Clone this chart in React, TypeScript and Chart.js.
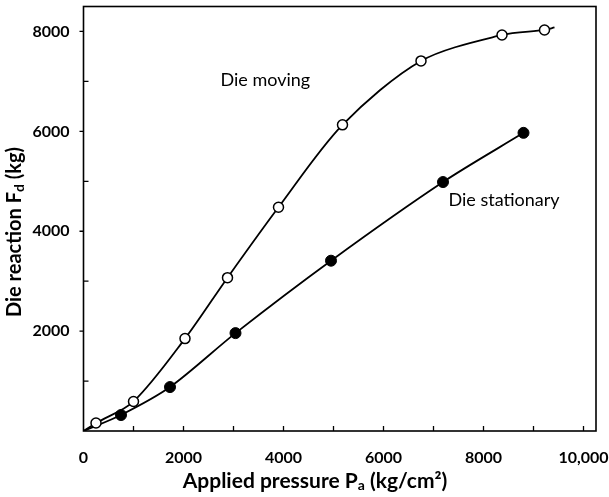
import React, { useEffect, useRef } from "react";
import { Chart, registerables } from "chart.js";

Chart.register(...registerables);

const movingX = [0, 250, 1000, 2030, 2880, 3900, 5180, 6750, 8370, 9220, 9420];
const movingY = [0, 160, 590, 1850, 3070, 4480, 6130, 7410, 7930, 8030, 8080];
const movingMarker = [false, true, true, true, true, true, true, true, true, true, false];

const stationaryX = [0, 750, 1730, 3040, 4950, 7190, 8800];
const stationaryY = [0, 320, 880, 1960, 3410, 4985, 5970];
const stationaryMarker = [false, true, true, true, true, true, true];

const xLabelTicks = [0, 2000, 4000, 6000, 8000, 10000];
const yLabelTicks = [2000, 4000, 6000, 8000];
const xMinorTicks = [1000, 2000, 3000, 4000, 5000, 6000, 7000, 8000, 9000, 10000];
const yMinorTicks = [1000, 3000, 5000, 7000];

const movingLabel = "Die moving";
const stationaryLabel = "Die stationary";

const FONT = "Lato, 'Open Sans', sans-serif";

function drawRich(ctx: CanvasRenderingContext2D, parts: { t: string; sub?: boolean }[], x: number, y: number, size: number, weight: string, center: boolean) {
  const widths = parts.map((p) => {
    ctx.font = `${weight} ${p.sub ? Math.round(size * 0.68) : size}px ${FONT}`;
    return ctx.measureText(p.t).width;
  });
  const total = widths.reduce((a, b) => a + b, 0);
  let cx = center ? x - total / 2 : x;
  parts.forEach((p, i) => {
    ctx.font = `${weight} ${p.sub ? Math.round(size * 0.68) : size}px ${FONT}`;
    ctx.fillText(p.t, cx, p.sub ? y + size * 0.22 : y);
    cx += widths[i];
  });
}

const decorPlugin = {
  id: "decor",
  afterDraw(chart: any) {
    const ctx = chart.ctx as CanvasRenderingContext2D;
    const area = chart.chartArea;
    const xs = chart.scales.x;
    const ys = chart.scales.y;
    ctx.save();
    ctx.strokeStyle = "#000";
    ctx.lineWidth = 1.6;
    ctx.strokeRect(area.left, area.top, area.right - area.left, area.bottom - area.top);
    ctx.lineWidth = 1.3;
    ctx.beginPath();
    xMinorTicks.forEach((v) => {
      const px = xs.getPixelForValue(v);
      ctx.moveTo(px, area.bottom);
      ctx.lineTo(px, area.bottom - 5);
    });
    yMinorTicks.forEach((v) => {
      const py = ys.getPixelForValue(v);
      ctx.moveTo(area.left, py);
      ctx.lineTo(area.left + 5, py);
    });
    yLabelTicks.forEach((v) => {
      const py = ys.getPixelForValue(v);
      ctx.moveTo(area.left, py);
      ctx.lineTo(area.left - 4, py);
    });
    ctx.stroke();

    ctx.fillStyle = "#000";
    ctx.textBaseline = "middle";
    ctx.textAlign = "left";
    ctx.font = `normal 18px ${FONT}`;
    ctx.fillText(movingLabel, xs.getPixelForValue(2740), ys.getPixelForValue(7020));
    ctx.fillText(stationaryLabel, xs.getPixelForValue(7300), ys.getPixelForValue(4620));

    drawRich(ctx, [{ t: "Applied pressure P" }, { t: "a", sub: true }, { t: " (kg/cm²)" }], 315, 481, 21, "bold", true);

    ctx.save();
    ctx.translate(15, 232);
    ctx.rotate(-Math.PI / 2);
    drawRich(ctx, [{ t: "Die reaction F" }, { t: "d", sub: true }, { t: " (kg)" }], 0, 0, 20, "bold", true);
    ctx.restore();
    ctx.restore();
  },
};

export default function App() {
  const ref = useRef<HTMLCanvasElement | null>(null);
  useEffect(() => {
    if (!ref.current) return;
    const chart = new Chart(ref.current, {
      type: "line",
      data: {
        datasets: [
          {
            label: movingLabel,
            data: movingX.map((x, i) => ({ x, y: movingY[i] })),
            borderColor: "#000",
            borderWidth: 1.8,
            backgroundColor: "#fff",
            pointBackgroundColor: "#fff",
            pointBorderColor: "#000",
            pointBorderWidth: 1.5,
            pointRadius: movingMarker.map((m) => (m ? 5 : 0)),
            tension: 0.3,
            fill: false,
          },
          {
            label: stationaryLabel,
            data: stationaryX.map((x, i) => ({ x, y: stationaryY[i] })),
            borderColor: "#000",
            borderWidth: 1.8,
            backgroundColor: "#000",
            pointBackgroundColor: "#000",
            pointBorderColor: "#000",
            pointBorderWidth: 1,
            pointRadius: stationaryMarker.map((m) => (m ? 5.5 : 0)),
            tension: 0.3,
            fill: false,
          },
        ],
      },
      options: {
        animation: false,
        responsive: false,
        devicePixelRatio: 1,
        layout: { padding: { left: 0, top: 5, right: 13, bottom: 0 } },
        plugins: { legend: { display: false }, tooltip: { enabled: false } },
        scales: {
          x: {
            type: "linear",
            min: 0,
            max: 10250,
            grid: { display: false },
            border: { display: false },
            afterBuildTicks: (s: any) => {
              s.ticks = xLabelTicks.map((v) => ({ value: v }));
            },
            afterFit: (s: any) => {
              s.height = 66;
              s.paddingLeft = 0;
              s.paddingRight = 0;
            },
            ticks: {
              color: "#000",
              padding: 9,
              maxRotation: 0,
              autoSkip: false,
              font: { family: FONT, size: 16, weight: "bold" },
              callback: (v: any) => (v === 10000 ? "10,000" : String(v)),
            },
          },
          y: {
            type: "linear",
            min: 0,
            max: 8500,
            grid: { display: false },
            border: { display: false },
            afterBuildTicks: (s: any) => {
              s.ticks = yLabelTicks.map((v) => ({ value: v }));
            },
            afterFit: (s: any) => {
              s.width = 83.5;
              s.paddingTop = 0;
              s.paddingBottom = 0;
            },
            ticks: {
              color: "#000",
              padding: 6,
              autoSkip: false,
              font: { family: FONT, size: 16, weight: "bold" },
              callback: (v: any) => String(v),
            },
          },
        },
      } as any,
      plugins: [decorPlugin],
    });
    return () => chart.destroy();
  }, []);
  return (
    <div style={{ position: "fixed", left: 0, top: 0, width: 609, height: 497, background: "#fff" }}>
      <canvas ref={ref} width={609} height={497} style={{ display: "block", width: 609, height: 497 }} />
    </div>
  );
}
